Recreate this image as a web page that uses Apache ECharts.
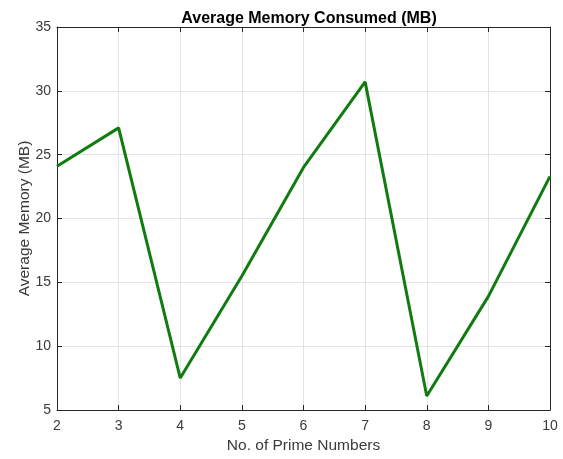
<!DOCTYPE html>
<html>
<head>
<meta charset="utf-8">
<script src="https://cdn.jsdelivr.net/npm/echarts@6/dist/echarts.min.js"></script>
<style>
  html, body { margin: 0; padding: 0; background: #fff; }
  #chart { width: 563px; height: 459px; }
</style>
</head>
<body>
<div id="chart"></div>
<script>
const primeCounts = [2, 3, 4, 5, 6, 7, 8, 9, 10];
const avgMemory = [24.1, 27.1, 7.5, 15.5, 24.0, 30.7, 6.1, 13.9, 23.3];

const font = "'Liberation Sans', Arial, sans-serif";
const axisGray = '#262626';
const labelGray = '#3a3a3a';
const chart = echarts.init(document.getElementById('chart'));

const points = primeCounts.map((x, i) => [x, avgMemory[i]]);

// MATLAB-ish box: ticks inside on all four sides
const boxAxis = {
  axisLine: { show: true, onZero: false, lineStyle: { color: axisGray, width: 1 } },
  axisTick: { show: true, inside: true, length: 5, lineStyle: { color: axisGray } },
  axisLabel: { show: false },
  splitLine: { show: false }
};

chart.setOption({
  animation: false,
  title: {
    text: 'Average Memory Consumed (MB)',
    left: 304,
    top: 6,
    textAlign: 'center',
    textStyle: { fontFamily: font, fontSize: 16, fontWeight: 'bold', color: '#000' }
  },
  grid: { left: 57, right: 13, top: 27, bottom: 47 },
  xAxis: [
    {
      type: 'value', min: 2, max: 10, interval: 1,
      name: 'No. of Prime Numbers', nameLocation: 'middle', nameGap: 28,
      nameMoveOverlap: false,
      nameTextStyle: { fontFamily: font, fontSize: 15.5, color: labelGray },
      axisLine: { show: true, onZero: false, lineStyle: { color: axisGray } },
      axisTick: { show: true, inside: true, length: 5, lineStyle: { color: axisGray } },
      axisLabel: { fontFamily: font, fontSize: 14, color: labelGray, margin: 9 },
      splitLine: { show: true, lineStyle: { color: '#e3e3e3', width: 1 } }
    },
    Object.assign({ type: 'value', min: 2, max: 10, interval: 1, position: 'top' }, boxAxis)
  ],
  yAxis: [
    {
      type: 'value', min: 5, max: 35, interval: 5,
      name: 'Average Memory (MB)', nameLocation: 'middle', nameGap: 24,
      nameMoveOverlap: false,
      nameTextStyle: { fontFamily: font, fontSize: 15.5, color: labelGray },
      axisLine: { show: true, onZero: false, lineStyle: { color: axisGray } },
      axisTick: { show: true, inside: true, length: 5, lineStyle: { color: axisGray } },
      axisLabel: { fontFamily: font, fontSize: 14, color: labelGray, margin: 6 },
      splitLine: { show: true, lineStyle: { color: '#e3e3e3', width: 1 } }
    },
    Object.assign({ type: 'value', min: 5, max: 35, interval: 5, position: 'right' }, boxAxis)
  ],
  series: [
    {
      type: 'line',
      data: points,
      showSymbol: false,
      lineStyle: { color: '#107c10', width: 3 },
      itemStyle: { color: '#107c10' }
    }
  ]
});
</script>
</body>
</html>
